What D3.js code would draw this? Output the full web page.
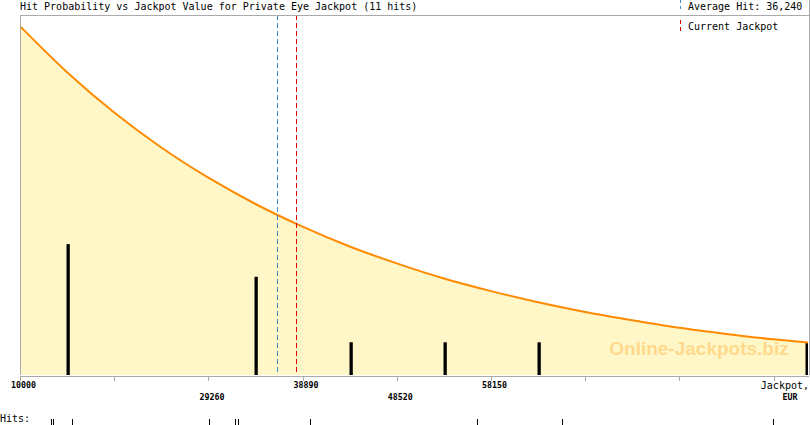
<!DOCTYPE html>
<html><head><meta charset="utf-8">
<script src="https://cdn.jsdelivr.net/npm/d3@7"></script>
<style>body{margin:0;background:#fff;overflow:hidden}svg{display:block}</style>
</head><body><svg id="c" width="810" height="425"></svg>
<script>
// ---- data ----
const title = "Hit Probability vs Jackpot Value for Private Eye Jackpot (11 hits)";
const jackpotValues = [10000, 14815, 19630, 24445, 29260, 34075, 38890, 43705, 48520, 53335, 58150, 62965, 67780, 72595, 77410, 82225, 87040, 90560];
const probability   = [0.969, 0.841, 0.729, 0.632, 0.548, 0.475, 0.412, 0.357, 0.310, 0.268, 0.233, 0.202, 0.175, 0.152, 0.131, 0.114, 0.099, 0.090];
const binCenters = [14815, 34075, 43705, 53335, 62965, 90400];
const binHits    = [4, 3, 1, 1, 1, 1];
const hitValues  = [13171, 13200, 13375, 15316, 29321, 31979, 32285, 39645, 56717, 65406, 86976];
const tickValues = [10000, 19630, 29260, 38890, 48520, 58150, 67780, 77410, 87040];
const tickLabels = ["10000", "", "29260", "38890", "48520", "58150", "", "", ""];
const tickRows   = [0, 0, 1, 0, 1, 0, 0, 0, 0];
const averageHit = 36240;
const averageLabel = "Average Hit: 36,240";
const currentJackpot = 38250;
const currentLabel = "Current Jackpot";
const totalHits = 11;

// ---- layout ----
const L = 20, R = 808, T = 15, B = 375;
const svg = d3.select("#c");
const x = d3.scaleLinear().domain([10000, 90560]).range([L, R]);
const yP = d3.scaleLinear().domain([0, 1]).range([B, T]);
const yH = d3.scaleLinear().domain([0, totalHits]).range([B, T]);
const mono = "'DejaVu Sans Mono', 'Liberation Mono', monospace";

svg.append("defs").append("clipPath").attr("id", "clip")
  .append("rect").attr("x", L).attr("y", T).attr("width", R - L).attr("height", B - T);

const pts = jackpotValues.map((v, i) => [v, probability[i]]);
const g = svg.append("g").attr("clip-path", "url(#clip)");

g.append("path").datum(pts)
  .attr("d", d3.area().x(d => x(d[0])).y0(B).y1(d => yP(d[1])).curve(d3.curveMonotoneX))
  .attr("fill", "#fff7c8");

// watermark
svg.append("text").attr("x", 699).attr("y", 355).attr("text-anchor", "middle")
  .attr("font-family", "'Liberation Sans', Arial, sans-serif").attr("font-weight", "bold")
  .attr("font-size", 19).attr("fill", "#ffd98c").text("Online-Jackpots.biz");

// bars
g.selectAll("rect.bar").data(binCenters).join("rect").attr("class", "bar")
  .attr("x", d => Math.round(x(d)) - 0.5).attr("width", 3.3)
  .attr("y", (d, i) => yH(binHits[i])).attr("height", (d, i) => B - yH(binHits[i]))
  .attr("fill", "#000");

// curve
g.append("path").datum(pts)
  .attr("d", d3.line().x(d => x(d[0])).y(d => yP(d[1])).curve(d3.curveMonotoneX))
  .attr("fill", "none").attr("stroke", "#ff8a00").attr("stroke-width", 2);

// reference lines
const vline = (v, color) => svg.append("line")
  .attr("x1", Math.round(x(v)) + 0.5).attr("x2", Math.round(x(v)) + 0.5)
  .attr("y1", T).attr("y2", B).attr("stroke", color).attr("stroke-width", 1)
  .attr("stroke-dasharray", "5,3");
vline(averageHit, "#3c8cc8");
vline(currentJackpot, "#dd0000");

// frame
const gray = "#aaaaaa";
svg.append("path").attr("d", `M${L + 0.5},${B}V${T + 0.5}H${R + 1.5}M${R + 1.5},0V${B}`)
  .attr("fill", "none").attr("stroke", gray).attr("shape-rendering", "crispEdges");

// axis
const ax = svg.append("g").attr("transform", `translate(0,${B + 0.5})`)
  .call(d3.axisBottom(x).tickValues(tickValues).tickSize(5).tickSizeOuter(0)
    .tickFormat((d, i) => tickLabels[i]));
ax.select(".domain").attr("stroke", gray).attr("shape-rendering", "crispEdges");
ax.selectAll(".tick line").attr("stroke", gray).attr("shape-rendering", "crispEdges");
ax.selectAll(".tick text")
  .attr("font-family", mono).attr("font-size", 8.3).attr("font-weight", "bold")
  .attr("fill", "#000").attr("dx", 3)
  .attr("y", (d, i) => tickRows[i] ? 19 : 7).attr("dy", "0.71em");
svg.append("text").attr("x", 809).attr("y", 389).attr("text-anchor", "end")
  .attr("font-family", mono).attr("font-size", 10).text("Jackpot,");
svg.append("text").attr("x", 790).attr("y", 400).attr("text-anchor", "middle")
  .attr("font-family", mono).attr("font-size", 8.3).attr("font-weight", "bold").text("EUR");

// title and legend
svg.append("text").attr("x", 20).attr("y", 10).attr("font-family", mono).attr("font-size", 10).text(title);
svg.append("line").attr("x1", 680.5).attr("x2", 680.5).attr("y1", 0).attr("y2", 9)
  .attr("stroke", "#3c8cc8").attr("stroke-dasharray", "3,3");
svg.append("text").attr("x", 688).attr("y", 10).attr("font-family", mono).attr("font-size", 10).text(averageLabel);
svg.append("line").attr("x1", 680.5).attr("x2", 680.5).attr("y1", 20).attr("y2", 33)
  .attr("stroke", "#dd0000").attr("stroke-dasharray", "4,3");
svg.append("text").attr("x", 688).attr("y", 30).attr("font-family", mono).attr("font-size", 10).text(currentLabel);

// hits row
svg.append("text").attr("x", 0).attr("y", 422).attr("font-family", mono).attr("font-size", 10).text("Hits:");
svg.selectAll("line.hit").data(hitValues).join("line").attr("class", "hit")
  .attr("x1", d => Math.round(x(d)) + 0.5).attr("x2", d => Math.round(x(d)) + 0.5)
  .attr("y1", 419).attr("y2", 425).attr("stroke", "#000");
</script></body></html>
